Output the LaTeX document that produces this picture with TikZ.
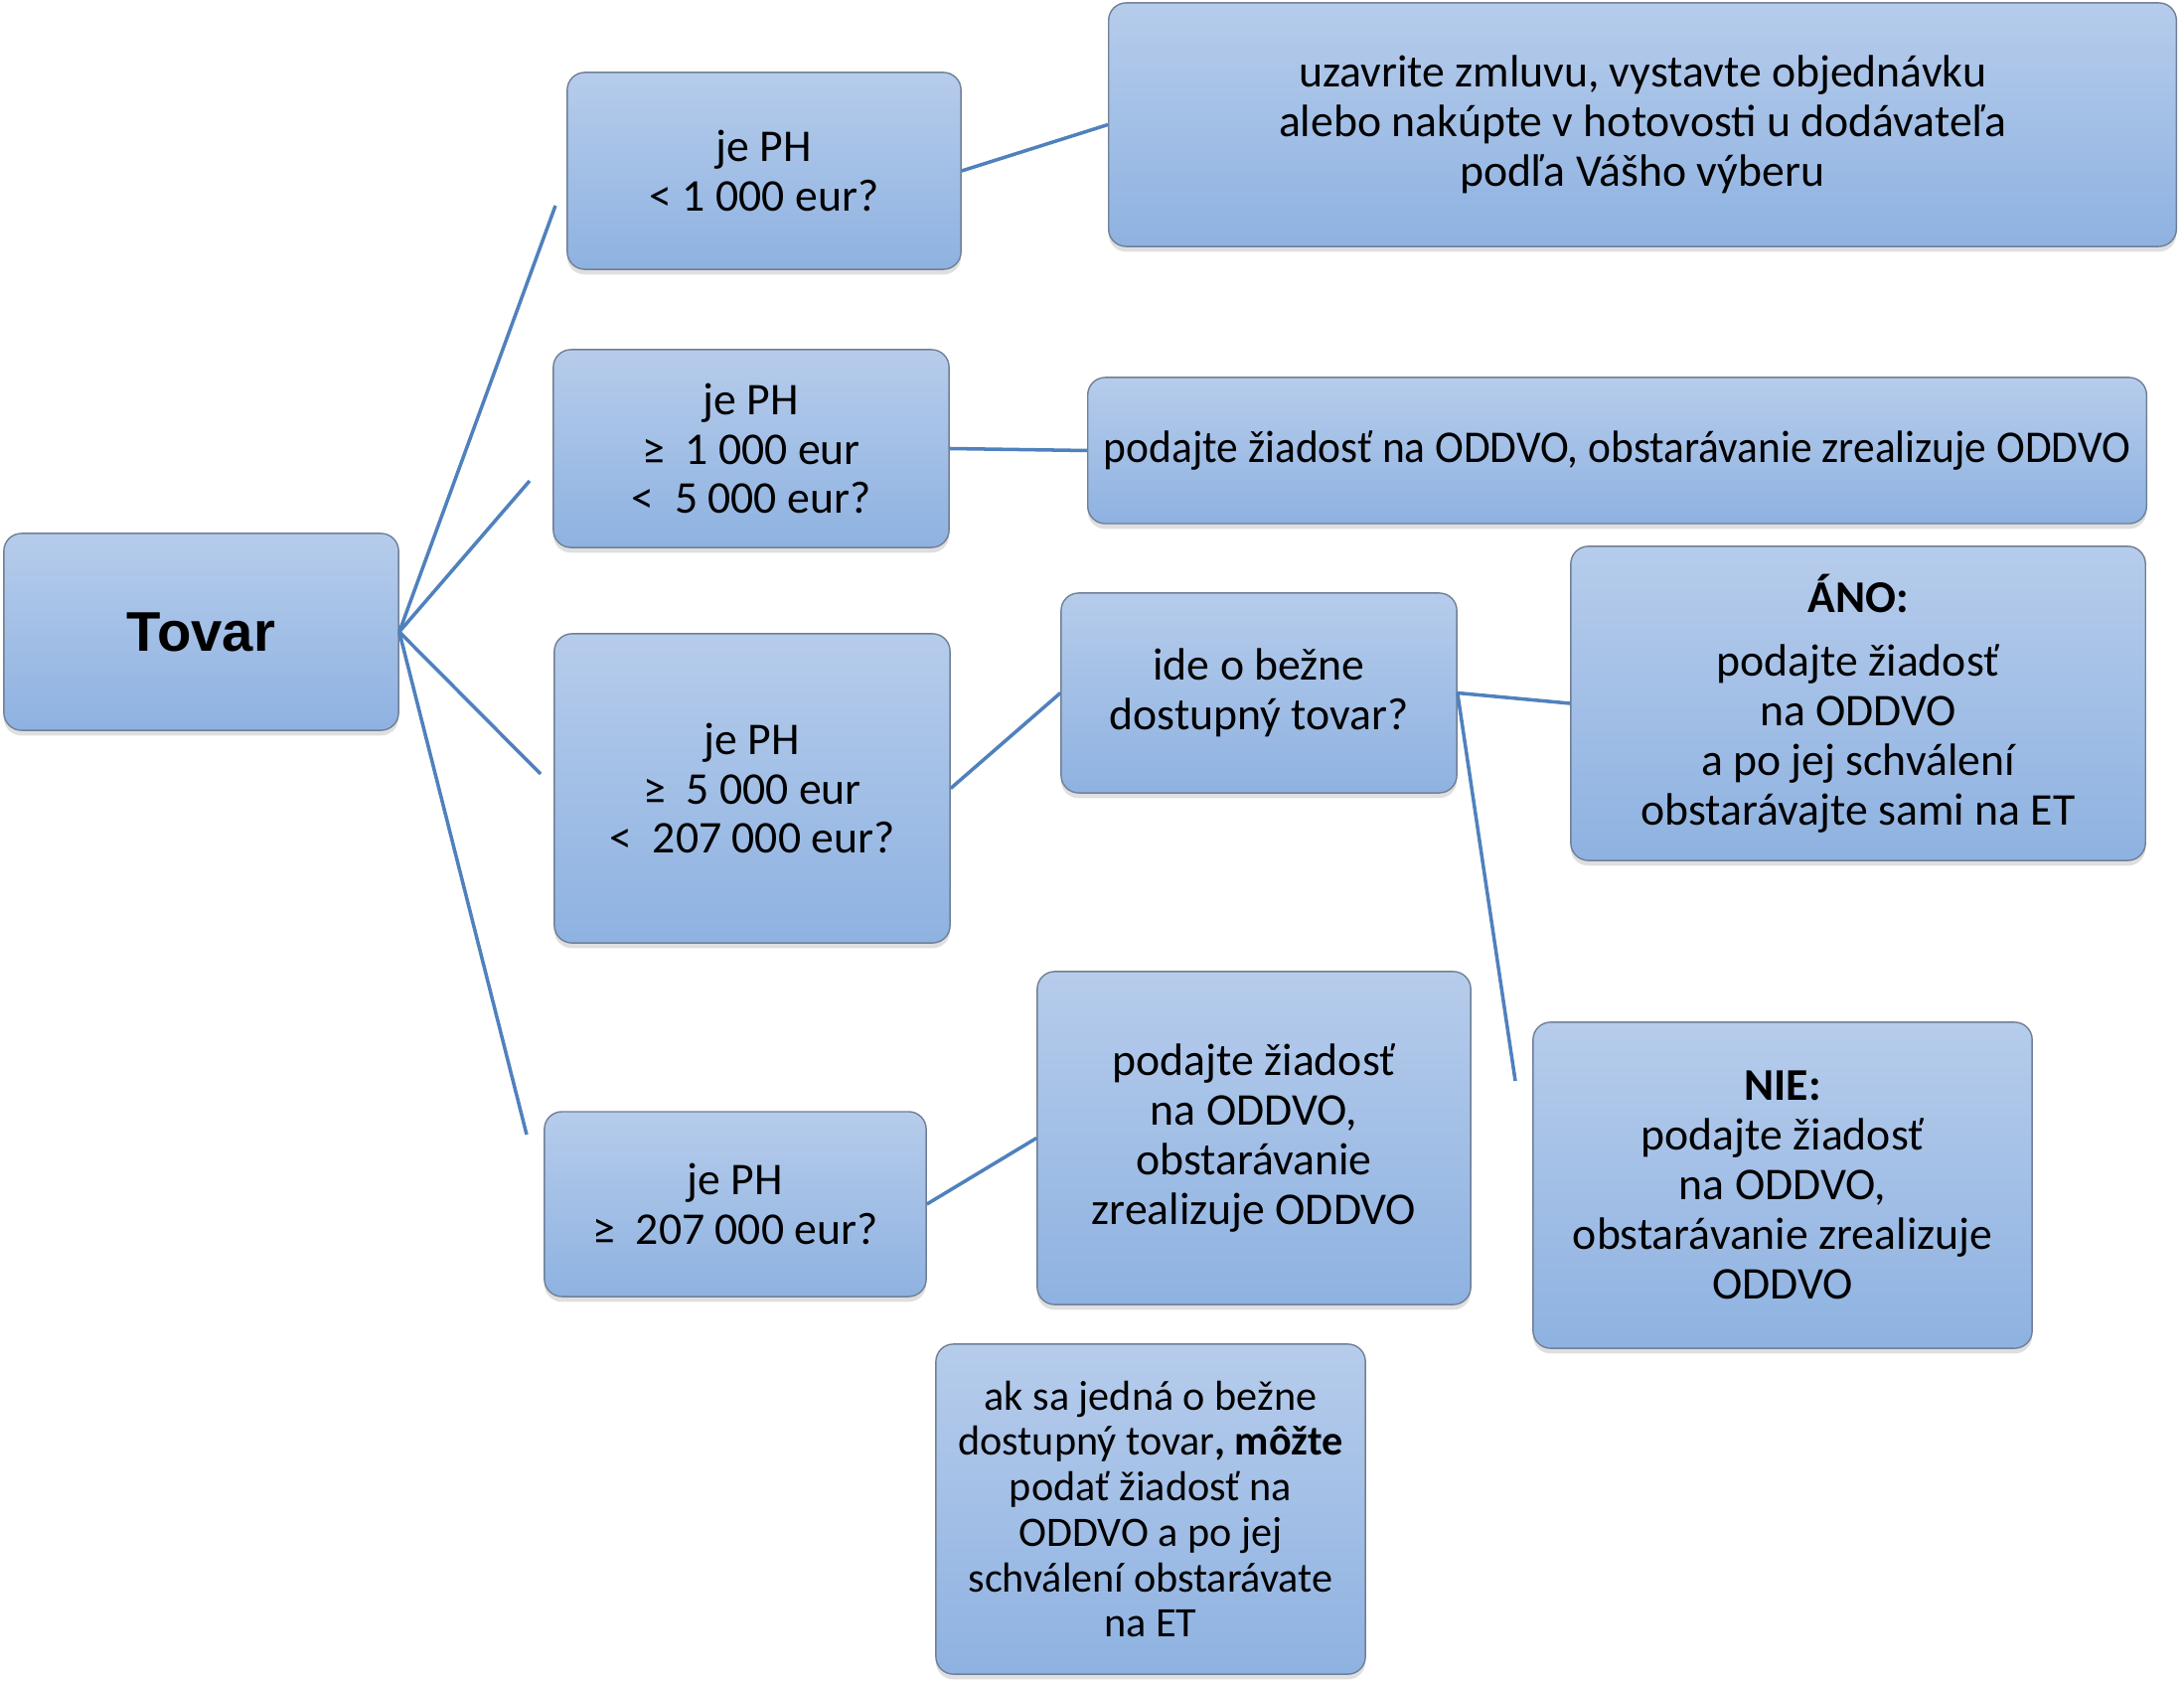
\documentclass[tikz,border=0pt]{standalone}
\usepackage{fontspec}
\setmainfont{Carlito}
\newfontfamily\tovarfont{Liberation Sans}
\usepackage{tikz}
\usetikzlibrary{shadows}
\definecolor{boxtop}{RGB}{182,204,235}
\definecolor{boxbot}{RGB}{142,178,225}
\definecolor{boxedge}{RGB}{112,128,150}
\definecolor{linkblue}{RGB}{79,129,189}

\tikzset{
  box/.style={rounded corners=5pt, draw=boxedge, line width=0.4pt,
    top color=boxtop, bottom color=boxbot, align=center, inner sep=0pt,
    font=\fontsize{13}{14.2}\selectfont,
    drop shadow={shadow xshift=0pt, shadow yshift=-1.5pt, opacity=0.25}},
  link/.style={linkblue, line width=1pt},
}

\begin{document}
\begin{tikzpicture}[x=0.01cm, y=-0.01cm]
  \useasboundingbox (0,0) rectangle (2198,1692);

  %% ── Root ────────────────────────────────────────────────────────
  \node[box, minimum width=3.97cm, minimum height=1.98cm,
        font=\tovarfont\bfseries\fontsize{16}{19}\selectfont] (tovar) at (202.5,636) {Tovar};

  %% ── Price questions ─────────────────────────────────────────────
  \node[box, minimum width=3.96cm, minimum height=1.98cm] (phA) at (769,172)
    {je PH\\< 1 000 eur?};
  \node[box, minimum width=3.98cm, minimum height=1.99cm] (phB) at (756,451.5)
    {je PH\\≥\ \ 1 000 eur\\<\ \ 5 000 eur?};
  \node[box, minimum width=3.98cm, minimum height=3.11cm] (phC) at (757,793.5)
    {je PH\\≥\ \ 5 000 eur\\<\ \ 207 000 eur?};
  \node[box, minimum width=3.84cm, minimum height=1.86cm] (phD) at (740,1212)
    {je PH\\≥\ \ 207 000 eur?};

  %% ── Answers ─────────────────────────────────────────────────────
  \node[box, minimum width=10.74cm, minimum height=2.45cm] (actA) at (1653,125.5)
    {uzavrite zmluvu, vystavte objednávku\\alebo nakúpte v hotovosti u dodávateľa\\podľa Vášho výberu};
  \node[box, minimum width=10.65cm, minimum height=1.47cm] (actB) at (1627.5,453.5)
    {\scalebox{0.95}[1]{podajte žiadosť na ODDVO, obstarávanie zrealizuje ODDVO}};
  \node[box, minimum width=3.98cm, minimum height=2.01cm] (bezne) at (1267,697.5)
    {ide o bežne\\dostupný tovar?};
  \node[box, minimum width=5.78cm, minimum height=3.16cm] (ano) at (1870,708)
    {\textbf{ÁNO:}\\[4pt]podajte žiadosť\\na ODDVO\\a po jej schválení\\obstarávajte sami na ET};
  \node[box, minimum width=5.02cm, minimum height=3.28cm] (nie) at (1794,1193)
    {\textbf{NIE:}\\podajte žiadosť\\na ODDVO,\\obstarávanie zrealizuje\\ODDVO};
  \node[box, minimum width=4.36cm, minimum height=3.35cm] (actD) at (1262,1145.5)
    {podajte žiadosť\\na ODDVO,\\obstarávanie\\zrealizuje ODDVO};

  %% ── Note ────────────────────────────────────────────────────────
  \node[box, minimum width=4.32cm, minimum height=3.32cm,
        font=\fontsize{12}{13}\selectfont] (note) at (1158,1519)
    {ak sa jedná o bežne\\dostupný tovar\textbf{, môžte}\\podať žiadosť na\\ODDVO a po jej\\schválení obstarávate\\na ET};

  %% ── Connectors ──────────────────────────────────────────────────
  \coordinate (toA) at (559,207);
  \coordinate (toB) at (533,484);
  \coordinate (toC) at (544,779);
  \coordinate (toD) at (530,1142);
  \coordinate (toNie) at (1525,1088);
  \foreach \c in {toA,toB,toC,toD}
    \draw[link] (tovar.east) -- (\c);
  \draw[link] (phA.east) -- (actA.west);
  \draw[link] (phB.east) -- (actB.west);
  \draw[link] (phC.east) -- (bezne.west);
  \draw[link] (bezne.east) -- (ano.west);
  \draw[link] (bezne.east) -- (toNie);
  \draw[link] (phD.east) -- (actD.west);

\end{tikzpicture}
\end{document}
